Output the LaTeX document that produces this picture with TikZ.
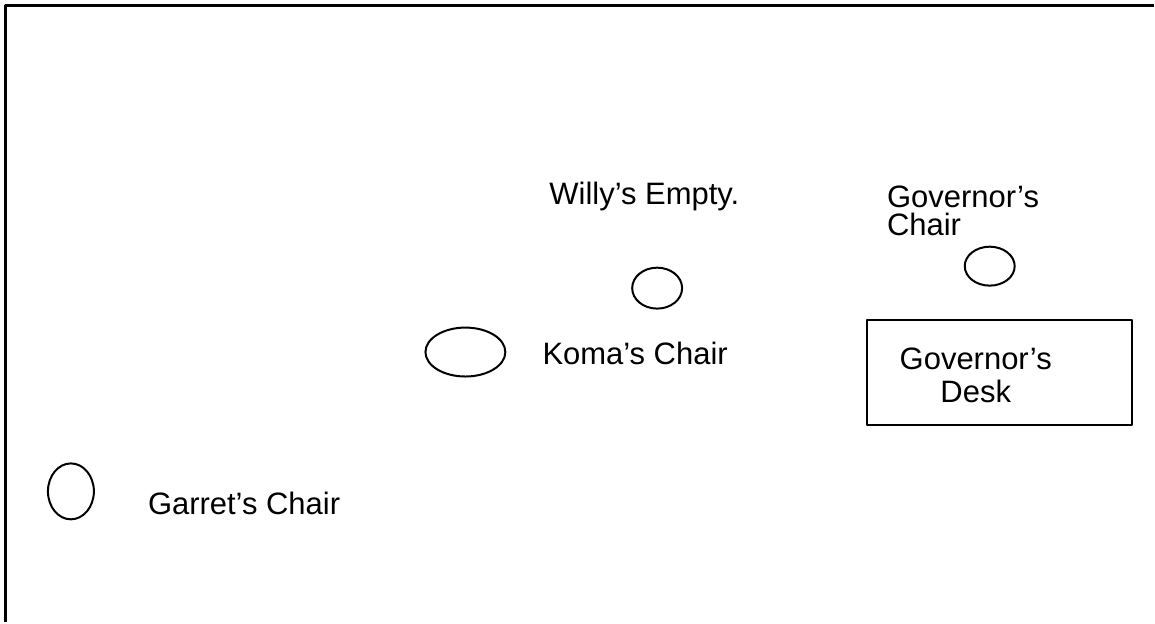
\documentclass[tikz,border=0pt]{standalone}
\usepackage{fontspec}
\setmainfont{Liberation Sans}
\usetikzlibrary{shapes.geometric,positioning}

\begin{document}
\begin{tikzpicture}[x=1pt,y=-1pt,line cap=round,line join=round]
\path[fill=white] (0,0) rectangle (1155,623);
\tikzset{chair/.style={draw=black,ellipse,inner sep=0pt,line width=2pt},label/.style={font=\fontsize{31}{28}\selectfont,inner sep=0pt},desk/.style={draw=black,rectangle,inner sep=0pt,line width=2pt}}
% room outline
\draw[line width=3pt,line cap=butt] (1155,5.5) -- (5.5,5.5) -- (5.5,623);
% chairs
\node[chair,minimum width=50pt,minimum height=41pt] (willy) at (658,288.5) {};
\node[chair,minimum width=80pt,minimum height=49pt] (koma) at (466,352.5) {};
\node[chair,minimum width=50pt,minimum height=39pt] (govchair) at (991,266.5) {};
\node[chair,minimum width=46pt,minimum height=56pt] (garret) at (71,492) {};
\node[desk,minimum width=265pt,minimum height=106pt] (govdesk) at (1000.5,373) {};
% labels
\node[label,anchor=base west] (willylbl) at (550,205) {Willy’s Empty.};
\node[label,anchor=base west,align=left] (govchairlbl) at (888,236) {Governor’s\\Chair};
\node[label,anchor=base west] (komalbl) at (543,365) {Koma’s Chair};
\node[label,anchor=base,align=center,font=\fontsize{31}{33}\selectfont] (govdesklbl) at (977,403) {Governor’s\\Desk};
\node[label,anchor=base west] (garretlbl) at (148,515) {Garret’s Chair};
\end{tikzpicture}
\end{document}
